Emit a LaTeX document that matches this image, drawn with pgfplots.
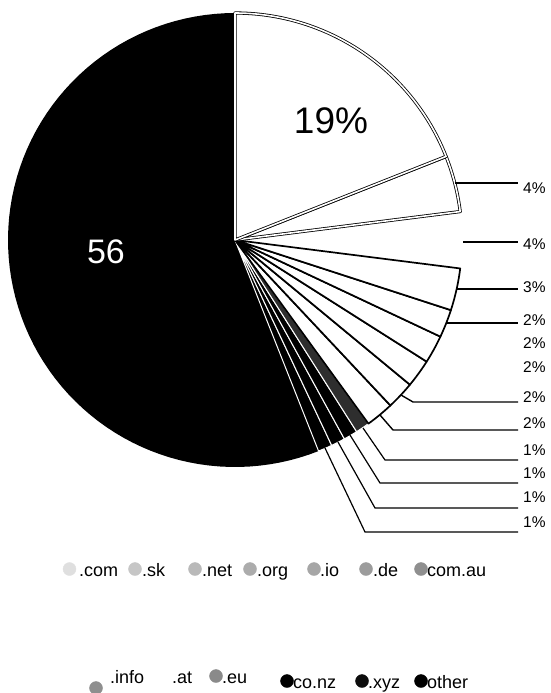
\documentclass[border=0pt]{standalone}
\usepackage{pgfplots}
\pgfplotsset{compat=1.18}
\usepackage{fontspec}
\setmainfont{Liberation Sans}
\pgfplotsset{
  comsl/.style={fill=white, draw=black, line width=0.8pt, double=white, double distance=1.6pt, line join=round},
  sksl/.style={fill=white, draw=black, line width=0.8pt, double=white, double distance=1.6pt, line join=round},
  netsl/.style={draw=none, fill=none},
  wsl/.style={fill=white, draw=black, line width=1.7pt, line join=round},
  eusl/.style={fill=black!82, draw=white, line width=1pt, line join=round},
  dsl/.style={fill=black, draw=white, line width=1pt, line join=round},
  othsl/.style={fill=black, draw=none},
}
\begin{document}
\begin{tikzpicture}
\begin{axis}[scale only axis, width=550pt, height=693pt,
  xmin=0, xmax=550, ymin=0, ymax=693, y dir=reverse,
  hide axis, clip=false]
% pie shares (percent), drawn counter-clockwise from the top
\def\cur{90}
\foreach \v/\sty in {56/othsl, 1/dsl, 1/dsl, 1/dsl, 1/eusl, 2/wsl, 2/wsl, 2/wsl, 2/wsl, 2/wsl, 3/wsl, 4/netsl, 4/sksl, 19/comsl}{%
  \pgfmathsetmacro\nxt{\cur+3.6*\v}%
  \edef\doit{\noexpand\addplot[\sty, domain=\cur:\nxt, samples=80] ({235+227*cos(x)},{240-227*sin(x)}) -- (axis cs:235,240) -- cycle;}%
  \doit
  \xdef\cur{\nxt}%
}
% leader lines
\addplot[black, line width=2.4pt] coordinates {(455,183)(518,183)};
\addplot[black, line width=1.1pt] coordinates {(463,242)(518,242)};
\addplot[black, line width=1.4pt] coordinates {(457,289)(518,289)};
\addplot[black, line width=1.4pt] coordinates {(446,323)(518,323)};
\addplot[black, line width=1.4pt] coordinates {(401,395)(413,402)(518,402)};
\addplot[black, line width=1.4pt] coordinates {(380,415)(393,430)(518,430)};
\addplot[black, line width=1.2pt] coordinates {(363,428)(385,460)(518,460)};
\addplot[black, line width=1.2pt] coordinates {(350,435)(380,483)(518,483)};
\addplot[black, line width=1.2pt] coordinates {(338,442)(375,508)(518,508)};
\addplot[black, line width=1.2pt] coordinates {(325,448)(365,532)(518,532)};
% labels
\node[anchor=base, inner sep=0, font=\fontsize{37}{40}\selectfont] at (axis cs:331,133) {19\%};
\node[anchor=base, inner sep=0, text=white, font=\fontsize{34}{38}\selectfont] at (axis cs:106,263) {56};
\foreach \yy/\lab in {193/4, 249/4, 292/3, 325.5/2, 348.5/2, 372.5/2, 402.5/2, 428.5/2, 455.5/1, 478.5/1, 502.5/1, 527.5/1}{
  \edef\doit{\noexpand\node[anchor=base west, inner sep=0, font=\noexpand\fontsize{15.5}{18}\noexpand\selectfont] at (axis cs:523,\yy) {\lab\noexpand\%};}
  \doit
}
% legend markers
\addplot[only marks, mark=*, mark size=6.5pt, draw=gray!25, fill=gray!25] coordinates {(69.5,569)};
\addplot[only marks, mark=*, mark size=6.5pt, draw=gray!45, fill=gray!45] coordinates {(135,569)};
\addplot[only marks, mark=*, mark size=6.5pt, draw=gray!55, fill=gray!55] coordinates {(195,569)};
\addplot[only marks, mark=*, mark size=6.5pt, draw=gray!65, fill=gray!65] coordinates {(250,569)};
\addplot[only marks, mark=*, mark size=6.5pt, draw=gray!70, fill=gray!70] coordinates {(314,569)};
\addplot[only marks, mark=*, mark size=6.5pt, draw=gray!78, fill=gray!78] coordinates {(366,569)};
\addplot[only marks, mark=*, mark size=6.5pt, draw=gray!88, fill=gray!88] coordinates {(421,569)};
\addplot[only marks, mark=*, mark size=6.5pt, draw=gray!88, fill=gray!88] coordinates {(96,688)};
\addplot[only marks, mark=*, mark size=6.5pt, draw=gray!92, fill=gray!92] coordinates {(216,676)};
\addplot[only marks, mark=*, mark size=6.5pt, draw=black, fill=black] coordinates {(287,681)};
\addplot[only marks, mark=*, mark size=6.5pt, draw=black!95, fill=black!95] coordinates {(362,681)};
\addplot[only marks, mark=*, mark size=6.5pt, draw=black, fill=black] coordinates {(421,681)};
% legend texts
\begin{scope}[every node/.style={anchor=base west, inner sep=0, font=\fontsize{18}{21}\selectfont}]
\node at (axis cs:79,576) {.com};
\node at (axis cs:142,576) {.sk};
\node at (axis cs:202,576) {.net};
\node at (axis cs:257,576) {.org};
\node at (axis cs:320,576) {.io};
\node at (axis cs:373,576) {.de};
\node at (axis cs:427,576) {com.au};
\node at (axis cs:110,683) {.info};
\node at (axis cs:172,683) {.at};
\node at (axis cs:222,683) {.eu};
\node at (axis cs:293,688) {co.nz};
\node at (axis cs:368,688) {.xyz};
\node at (axis cs:427,688) {other};
\end{scope}
\end{axis}
\pgfresetboundingbox
\path (current axis.south west) rectangle (current axis.north east);
\end{tikzpicture}
\end{document}
